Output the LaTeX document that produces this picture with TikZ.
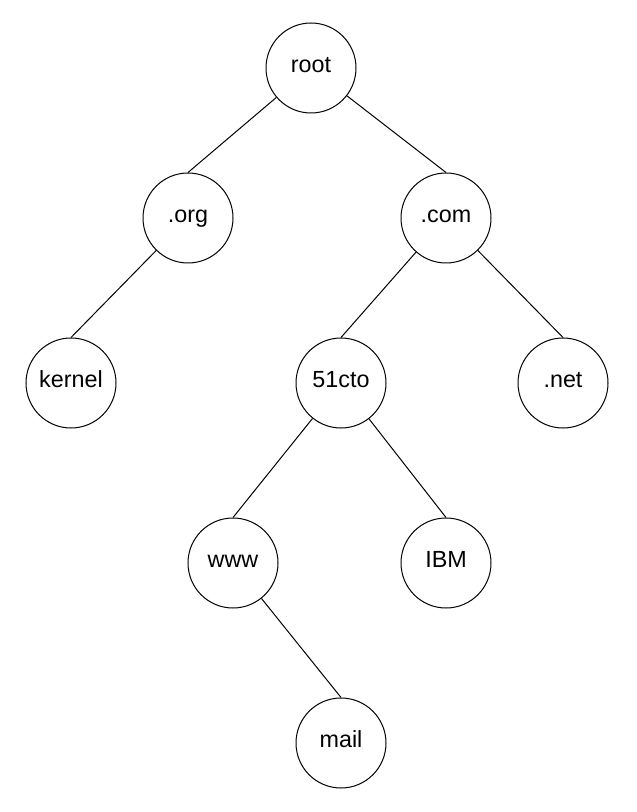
\documentclass[tikz,border=0pt]{standalone}
\usepackage{fontspec}
\setmainfont{Liberation Sans}
\usepackage{tikz}

\begin{document}
\begin{tikzpicture}[x=0.75pt,y=-0.75pt,
  dnsnode/.style={draw, circle, line width=0.75pt, minimum size=67.5pt, inner sep=0pt, text height=0.66em, text depth=0pt, font=\fontsize{17.5}{20}\selectfont},
  link/.style={line width=0.75pt}]
\useasboundingbox (0,0) rectangle (636,812);
\node[dnsnode] (root) at (311,68) {root};
\node[dnsnode] (org) at (188,218) {.org};
\node[dnsnode] (com) at (446,218) {.com};
\node[dnsnode] (kernel) at (71,383) {kernel};
\node[dnsnode] (cto) at (341,383) {51cto};
\node[dnsnode] (net) at (563,383) {.net};
\node[dnsnode] (www) at (233,563) {www};
\node[dnsnode] (ibm) at (446,563) {IBM};
\node[dnsnode] (mail) at (341,743) {mail};
\draw[link] (root) -- (org.north);
\draw[link] (root) -- (com.north);
\draw[link] (org) -- (kernel.north);
\draw[link] (com) -- (cto.north);
\draw[link] (com) -- (net.north);
\draw[link] (cto) -- (www.north);
\draw[link] (cto) -- (ibm.north);
\draw[link] (www) -- (mail.north);
\end{tikzpicture}
\end{document}
